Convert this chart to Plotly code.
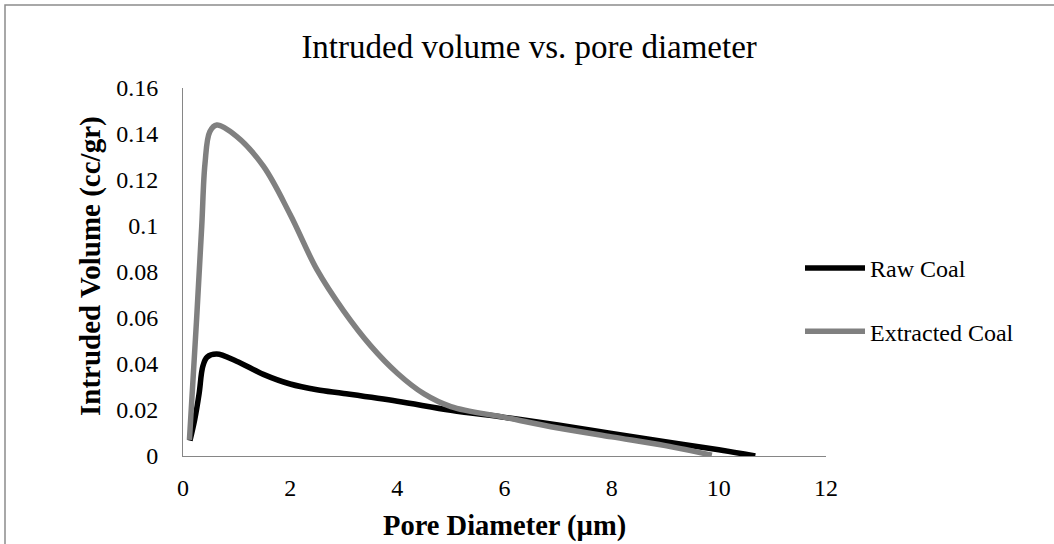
import plotly.graph_objects as go

# Pore diameter (µm) and intruded volume (cc/gr) for each sample
raw_x = [0.13, 0.22, 0.30, 0.37, 0.45, 0.63, 1.0, 1.5, 2.0, 2.5, 3.0, 4.0, 5.0,
         6.0, 7.0, 8.0, 9.0, 10.0, 10.68]
raw_y = [0.0067, 0.016, 0.027, 0.039, 0.043, 0.0443, 0.0412, 0.0355, 0.0313, 0.0288,
         0.0272, 0.0238, 0.0199, 0.0168, 0.0135, 0.0098, 0.0062, 0.0027, 0.0]

ext_x = [0.12, 0.25, 0.35, 0.41, 0.50, 0.63, 1.0, 1.5, 2.0, 2.5, 3.0, 3.5, 4.0,
         4.5, 5.0, 6.0, 7.0, 8.0, 9.0, 9.87]
ext_y = [0.007, 0.058, 0.100, 0.127, 0.141, 0.1439, 0.139, 0.126, 0.105, 0.081,
         0.063, 0.048, 0.036, 0.027, 0.0215, 0.0168, 0.0122, 0.0083, 0.0045, 0.0004]

series_names = ["Raw Coal", "Extracted Coal"]
x_ticks = [0, 2, 4, 6, 8, 10, 12]
y_ticks = [0, 0.02, 0.04, 0.06, 0.08, 0.1, 0.12, 0.14, 0.16]
y_tick_text = ["0", "0.02", "0.04", "0.06", "0.08", "0.1", "0.12", "0.14", "0.16"]

FONT = "Liberation Serif"
W, H = 1054, 544
L, R, T, B = 183, 228, 88, 88
pw, ph = W - L - R, H - T - B


def px_x(p):
    return (p - L) / pw


def px_y(p):
    return 1 - (p - T) / ph


fig = go.Figure()
fig.add_trace(go.Scatter(
    x=raw_x, y=raw_y, name=series_names[0], mode="lines",
    line=dict(color="#000000", width=5.5, shape="spline", smoothing=1.0),
    legendgroup="a",
))
fig.add_trace(go.Scatter(
    x=ext_x, y=ext_y, name=series_names[1], mode="lines",
    line=dict(color="#808080", width=5.5, shape="spline", smoothing=1.0),
    legendgroup="b",
))

axis_common = dict(
    showgrid=False, zeroline=False, showline=True, linecolor="#868686",
    linewidth=1, ticks="", tickfont=dict(family=FONT, size=24, color="#000000"),
)

fig.update_layout(
    width=W, height=H,
    margin=dict(l=L, r=R, t=T, b=B),
    paper_bgcolor="white", plot_bgcolor="white",
    title=dict(text="Intruded volume vs. pore diameter",
               font=dict(family=FONT, size=33, color="#000000"),
               x=0.502, xanchor="center",
               y=1 - 46 / H, yanchor="middle", yref="container"),
    xaxis=dict(range=[0, 12], tickvals=x_ticks, ticklabelstandoff=10, **axis_common),
    yaxis=dict(range=[0, 0.16], tickvals=y_ticks, ticktext=y_tick_text,
               ticklabelstandoff=19, **axis_common),
    showlegend=True,
    legend=dict(x=px_x(800), xanchor="left", y=px_y(246), yanchor="top",
                font=dict(family=FONT, size=24, color="#000000"),
                tracegroupgap=29, itemwidth=60, bgcolor="rgba(0,0,0,0)"),
    annotations=[
        dict(text="<b>Pore Diameter (µm)</b>", xref="paper", yref="paper",
             x=0.5, y=px_y(526), xanchor="center", yanchor="middle",
             showarrow=False, font=dict(family=FONT, size=28.5, color="#000000")),
        dict(text="<b>Intruded Volume (cc/gr)</b>", xref="paper", yref="paper",
             x=px_x(90), y=px_y(266), xanchor="center", yanchor="middle", textangle=-90,
             showarrow=False, font=dict(family=FONT, size=29, color="#000000")),
    ],
    shapes=[
        dict(type="rect", xref="paper", yref="paper",
             x0=px_x(5), x1=px_x(1070), y0=px_y(560), y1=px_y(5),
             line=dict(color="#8c8c8c", width=1.5), fillcolor="rgba(0,0,0,0)",
             layer="below"),
    ],
)

fig.write_html("out.html")
